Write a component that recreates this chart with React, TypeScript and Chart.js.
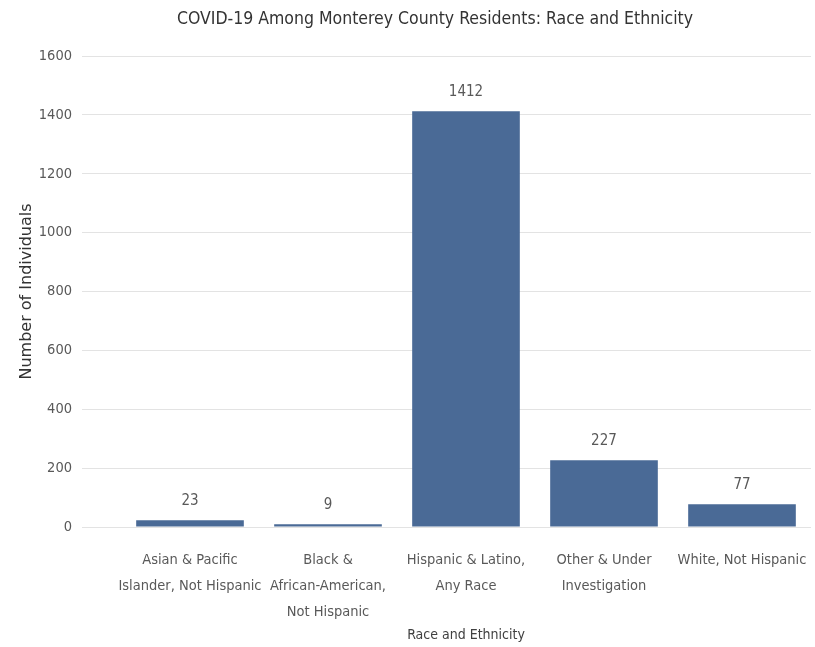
import React, { useEffect, useRef } from 'react';
import { Chart, registerables } from 'chart.js';

Chart.register(...registerables);

const chartTitle = 'COVID-19 Among Monterey County Residents: Race and Ethnicity';
const categories: string[][] = [
  ['Asian & Pacific', 'Islander, Not Hispanic'],
  ['Black &', 'African-American,', 'Not Hispanic'],
  ['Hispanic & Latino,', 'Any Race'],
  ['Other & Under', 'Investigation'],
  ['White, Not Hispanic'],
];
const values = [23, 9, 1412, 227, 77];
const yMin = 0;
const yMax = 1600;
const yStep = 200;
const xTitle = 'Race and Ethnicity';
const yTitle = 'Number of Individuals';

const NARROW = "'Liberation Sans Narrow', 'DejaVu Sans Condensed', 'Arial Narrow', sans-serif";

export default function App() {
  const ref = useRef<HTMLCanvasElement | null>(null);

  useEffect(() => {
    document.body.style.margin = '0';
    if (!ref.current) return;

    const titlePlugin = {
      id: 'customTitle',
      afterDraw(chart: any) {
        const ctx = chart.ctx;
        ctx.save();
        ctx.font = `17.5px ${NARROW}`;
        ctx.fillStyle = '#333333';
        ctx.textAlign = 'center';
        ctx.textBaseline = 'middle';
        ctx.fillText(chartTitle, 435, 19);
        ctx.restore();
      },
    };

    const labelPlugin = {
      id: 'barValues',
      afterDatasetsDraw(chart: any) {
        const ctx = chart.ctx;
        const meta = chart.getDatasetMeta(0);
        ctx.save();
        ctx.font = `15px ${NARROW}`;
        ctx.fillStyle = '#595959';
        ctx.textAlign = 'center';
        ctx.textBaseline = 'middle';
        meta.data.forEach((bar: any, i: number) => {
          ctx.fillText(String(values[i]), bar.x, bar.y - 19);
        });
        ctx.restore();
      },
    };

    const chart = new Chart(ref.current, {
      type: 'bar',
      data: {
        labels: categories,
        datasets: [
          {
            data: values,
            backgroundColor: '#4a6a96',
            barPercentage: 0.78,
            categoryPercentage: 1,
          },
        ],
      },
      options: {
        animation: false,
        responsive: true,
        maintainAspectRatio: false,
        layout: { padding: { top: 56, right: 4, left: 0, bottom: 0 } },
        plugins: {
          legend: { display: false },
          title: { display: false },
          tooltip: { enabled: false },
        },
        scales: {
          x: {
            grid: { display: false, drawTicks: false },
            border: { display: false },
            ticks: {
              color: '#595959',
              font: { family: NARROW, size: 14.5, lineHeight: 1.8 },
              padding: 20,
              maxRotation: 0,
              autoSkip: false,
            },
            title: {
              display: true,
              text: xTitle,
              color: '#404040',
              font: { family: NARROW, size: 14, lineHeight: 1.2 },
              padding: { top: 0, bottom: 3 },
            },
            afterFit(scale: any) {
              scale.height = 120;
              scale.paddingLeft = 0;
              scale.paddingRight = 0;
            },
          },
          y: {
            min: yMin,
            max: yMax,
            grid: { color: '#e3e3e3', lineWidth: 1, drawTicks: true, tickLength: 39 },
            border: { display: false },
            ticks: {
              stepSize: yStep,
              color: '#595959',
              font: { family: NARROW, size: 14.5 },
              padding: 10,
              callback: (v: any) => String(v),
            },
            title: {
              display: true,
              text: yTitle,
              color: '#333333',
              font: { family: "'DejaVu Sans', Verdana, sans-serif", size: 16, lineHeight: 1.2 },
              padding: { top: 17, bottom: 0 },
            },
            afterFit(scale: any) {
              scale.width = 121;
            },
          },
        },
      },
      plugins: [titlePlugin, labelPlugin],
    });

    return () => chart.destroy();
  }, []);

  return (
    <div style={{ width: 815, height: 647, position: 'relative' }}>
      <canvas ref={ref} />
    </div>
  );
}
